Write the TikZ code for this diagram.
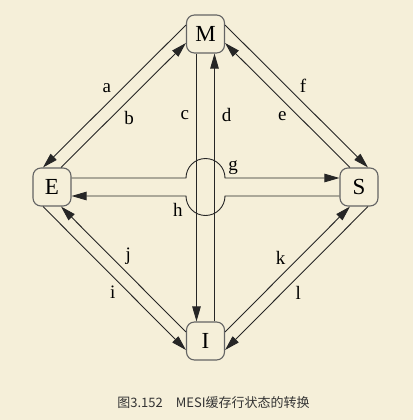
\documentclass[tikz,border=0pt]{standalone}
\usepackage{fontspec}
\setmainfont{Liberation Serif}
\newfontfamily\cjkfont{Noto Sans CJK SC}
\usetikzlibrary{arrows.meta,calc,positioning}
\tikzset{>={Triangle[length=15pt,width=8.5pt]}}
\definecolor{paper}{RGB}{245,239,217}
\definecolor{boxline}{RGB}{100,100,100}
\definecolor{capgray}{RGB}{51,51,51}

\begin{document}
\begin{tikzpicture}[node distance=153pt and 153.5pt,
		state/.style={draw=boxline,line width=1.1pt,rounded corners=8pt,minimum width=38pt,minimum height=38pt,inner sep=0pt,font=\fontsize{23}{26}\selectfont},
		lbl/.style={inner sep=3pt,font=\fontsize{19}{22}\selectfont},
		trans/.style={->,line width=0.9pt,draw=black!85},
		caption/.style={font=\cjkfont\fontsize{13}{15}\selectfont,text=capgray}]
		\useasboundingbox (-205.5pt,34pt) rectangle (207.5pt,-386pt);
		\fill[paper] (-205.5pt,34pt) rectangle (207.5pt,-386pt);

		\node[state]                          (M) at (0,0) {M};
		\node[state,on grid,below left=of M]  (E) {E};
		\node[state,on grid,below right=of M] (S) {S};
		\node[state,on grid,below=307pt of M] (I) {I};
		\coordinate (X) at ($(E)!0.5!(S)$);

		% M and E
		\draw[trans] ([yshift=9pt]M.west) -- node[lbl,pos=0.5,above left] (la) {a} ([xshift=-9pt]E.north);
		\draw[trans] ([xshift=9pt]E.north) -- node[lbl,pos=0.48,below right] (lb) {b} ([yshift=-9pt]M.west);

		% M and S
		\draw[trans] ([yshift=9pt]M.east) -- node[lbl,pos=0.5,above right] (lf) {f} ([xshift=9pt]S.north);
		\draw[trans] ([xshift=-9pt]S.north) -- node[lbl,pos=0.48,below left] (le) {e} ([yshift=-9pt]M.east);

		% M and I
		\draw[trans] ([xshift=-9pt]M.south) -- node[lbl,pos=0.23,left=4pt] (lc) {c} ([xshift=-9pt]I.north);
		\draw[trans] ([xshift=9pt]I.north) -- node[lbl,pos=0.77,right=4pt] (ld) {d} ([xshift=9pt]M.south);

		% E and S, hopping over the middle
		\draw[trans] ([yshift=9pt]E.east) -- ([shift={(-19.5pt,9pt)}]X)
			arc[start angle=180,end angle=0,radius=19.5pt] node[lbl,above right] (lg) {g}
			-- ([yshift=9pt]S.west);
		\draw[trans] ([yshift=-9pt]S.west) -- ([shift={(19.5pt,-9pt)}]X)
			arc[start angle=0,end angle=-180,radius=19.5pt] node[lbl,below left,yshift=-4pt] (lh) {h}
			-- ([yshift=-9pt]E.east);

		% E and I
		\draw[trans] ([xshift=-9pt]E.south) -- node[lbl,pos=0.53,below left] (li) {i} ([yshift=-9pt]I.west);
		\draw[trans] ([yshift=9pt]I.west) -- node[lbl,pos=0.51,above right] (lj) {j} ([xshift=9pt]E.south);

		% I and S
		\draw[trans] ([yshift=9pt]I.east) -- node[lbl,pos=0.51,above left] (lk) {k} ([xshift=-9pt]S.south);
		\draw[trans] ([xshift=9pt]S.south) -- node[lbl,pos=0.53,below right] (ll) {l} ([yshift=-9pt]I.east);

		% caption
		\node[caption] (cap) at ([shift={(8pt,-62pt)}]I) {图3.152\hspace{1em}MESI缓存行状态的转换};
\end{tikzpicture}
\end{document}
